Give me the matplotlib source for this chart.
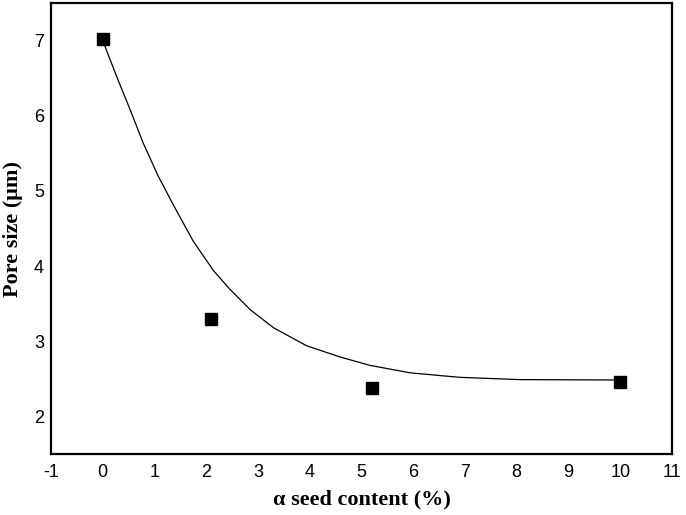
import numpy as np
import matplotlib
matplotlib.use('Agg')
import matplotlib.pyplot as plt

# ==========================================
# Data
# ==========================================
seed_content = [0.0, 2.1, 5.2, 10.0]
pore_size = [7.02, 3.29, 2.38, 2.46]

# smooth fitted curve
curve_x = [0.0, 0.27, 0.53, 0.78, 1.07, 1.36, 1.75, 2.14, 2.46, 2.85,
           3.30, 3.94, 4.59, 5.16, 5.94, 6.90, 8.06, 9.86, 10.0]
curve_y = [7.00, 6.52, 6.08, 5.64, 5.20, 4.82, 4.33, 3.94, 3.69, 3.42,
           3.18, 2.94, 2.79, 2.68, 2.58, 2.52, 2.49, 2.485, 2.485]

x_ticks = list(range(-1, 12))
y_ticks = [2, 3, 4, 5, 6, 7]

# ==========================================
# Plot
# ==========================================
fig = plt.figure(figsize=(6.86, 5.15), dpi=100)
ax = fig.add_axes([0.0743, 0.1184, 0.9053, 0.8758])

ax.plot(curve_x, curve_y, color='black', linewidth=0.9, zorder=2)
ax.plot(seed_content, pore_size, linestyle='none', marker='s', markersize=8,
        color='black', zorder=3)

ax.set_xlim(-1, 11)
ax.set_ylim(1.5, 7.5)
ax.set_xticks(x_ticks)
ax.set_yticks(y_ticks)

tick_font = {'family': 'Liberation Sans', 'size': 13}
ax.set_xticklabels([str(t) for t in x_ticks], fontdict=tick_font)
ax.set_yticklabels([str(t) for t in y_ticks], fontdict=tick_font)
ax.tick_params(axis='both', length=0)
ax.tick_params(axis='x', pad=7)
ax.tick_params(axis='y', pad=5)

for sp in ax.spines.values():
    sp.set_linewidth(1.6)

label_font = {'family': 'Liberation Serif', 'size': 16, 'weight': 'bold'}
ax.set_xlabel('α seed content (%)', fontdict=label_font, labelpad=6)
ax.set_ylabel('Pore size (μm)', fontdict=label_font, labelpad=8)

fig.savefig('out.png', dpi=100)
plt.close(fig)
